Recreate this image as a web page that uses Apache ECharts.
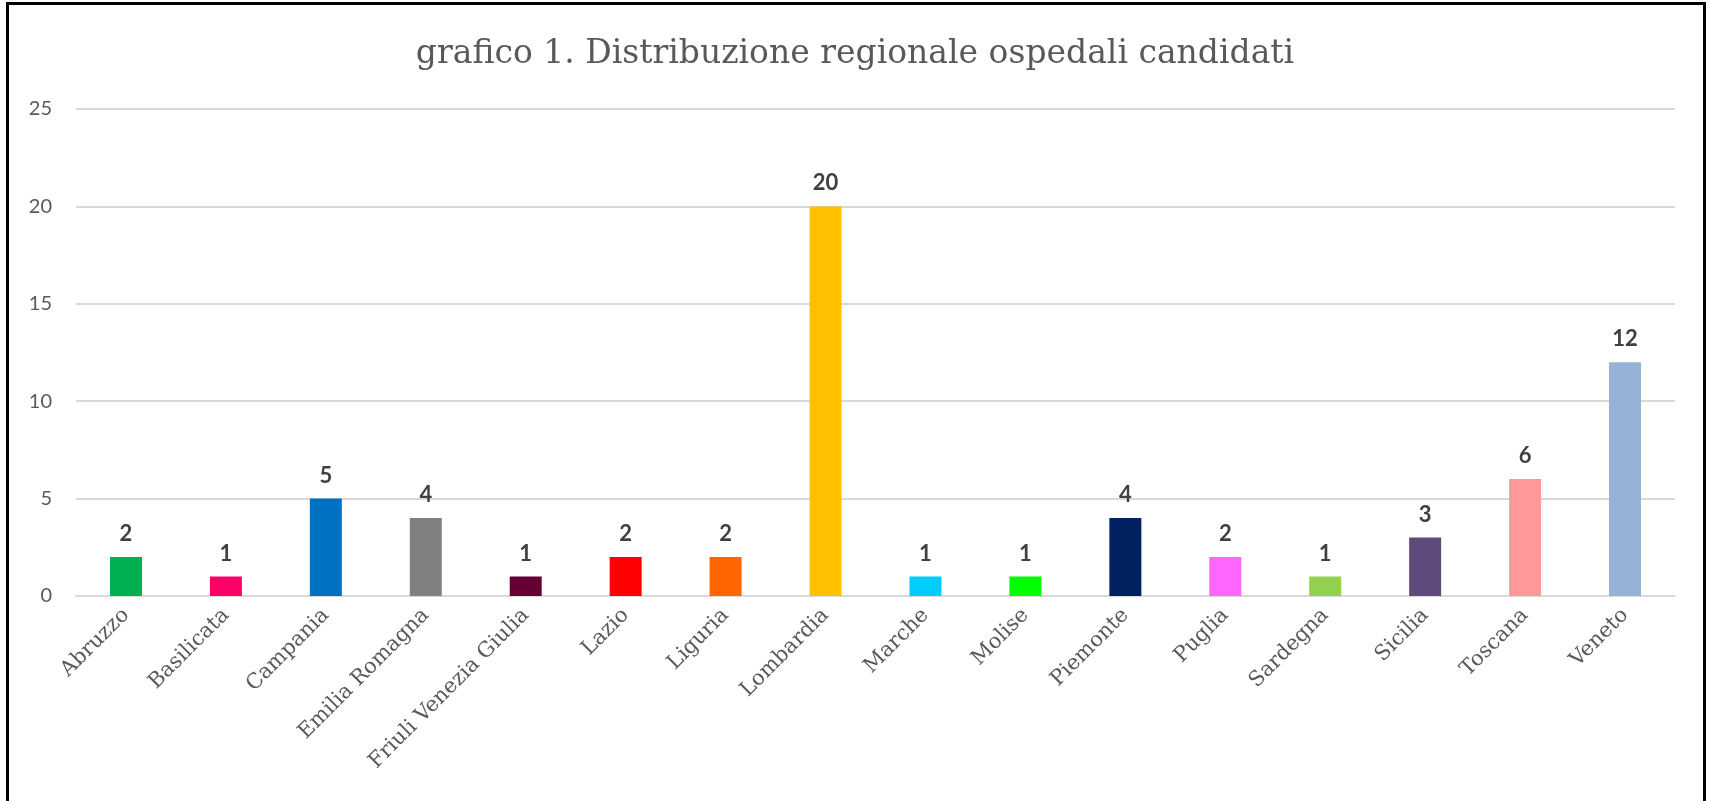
<!DOCTYPE html>
<html>
<head>
<meta charset="utf-8">
<script src="https://cdn.jsdelivr.net/npm/echarts@6/dist/echarts.min.js"></script>
<style>
  html, body { margin: 0; padding: 0; background: #fff; overflow: hidden; }
  #frame { position: absolute; left: 6px; top: 2px; width: 1694px; height: 830px; border: 3px solid #000; }
  #chart { position: absolute; left: 0; top: 0; width: 1710px; height: 801px; }
</style>
</head>
<body>
<div id="frame"></div>
<div id="chart"></div>
<script>
// regioni e numero di ospedali candidati
const regioni = ['Abruzzo', 'Basilicata', 'Campania', 'Emilia Romagna', 'Friuli Venezia Giulia', 'Lazio', 'Liguria',
  'Lombardia', 'Marche', 'Molise', 'Piemonte', 'Puglia', 'Sardegna', 'Sicilia', 'Toscana', 'Veneto'];
const ospedali = [2, 1, 5, 4, 1, 2, 2, 20, 1, 1, 4, 2, 1, 3, 6, 12];
const colori = ['#00B050', '#FF0066', '#0070C0', '#808080', '#660033', '#FF0000', '#FF6600', '#FFC000',
  '#00CCFF', '#00FF00', '#002060', '#FF66FF', '#92D050', '#604A7B', '#FF9999', '#95B3D7'];
const yTicks = [0, 5, 10, 15, 20, 25];

const chart = echarts.init(document.getElementById('chart'));

const option = {
  title: {
    text: 'grafico 1. Distribuzione regionale ospedali candidati',
    left: 'center',
    top: 33,
    textStyle: {
      fontFamily: 'DejaVu Serif',
      fontSize: 33,
      fontWeight: 'normal',
      color: '#595959'
    }
  },
  grid: {
    left: 76,
    right: 35,
    top: 109,
    bottom: 205
  },
  xAxis: {
    type: 'category',
    data: regioni,
    axisTick: { show: false },
    axisLine: { lineStyle: { color: '#d9d9d9', width: 2 } },
    axisLabel: {
      rotate: 45,
      margin: 16,
      interval: 0,
      fontFamily: 'DejaVu Serif',
      fontSize: 21,
      color: '#595959'
    }
  },
  yAxis: {
    type: 'value',
    min: yTicks[0],
    max: yTicks[yTicks.length - 1],
    interval: 5,
    axisLine: { show: false },
    axisTick: { show: false },
    splitLine: { lineStyle: { color: '#d9d9d9', width: 2 } },
    axisLabel: {
      margin: 24,
      fontFamily: 'Lato',
      fontSize: 20,
      color: '#595959'
    }
  },
  series: [
    {
      type: 'bar',
      barWidth: '32%',
      data: ospedali.map((v, i) => ({ value: v, itemStyle: { color: colori[i] } })),
      label: {
        show: true,
        position: 'top',
        distance: 12,
        fontFamily: 'Lato',
        fontWeight: 'bold',
        fontSize: 22,
        color: '#404040'
      }
    }
  ]
};

chart.setOption(option);
</script>
</body>
</html>
